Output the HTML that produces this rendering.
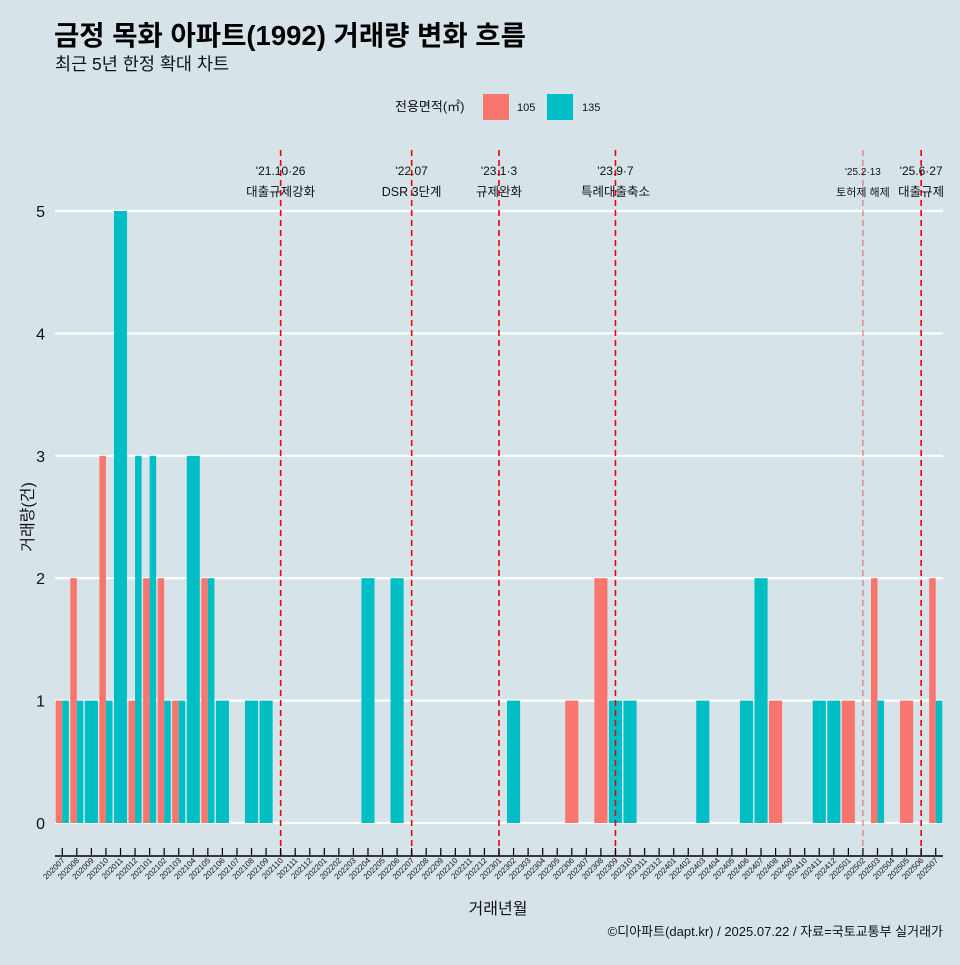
<!DOCTYPE html>
<html><head><meta charset="utf-8">
<style>
body{margin:0;background:#d6e4ea;}
svg text{font-family:"Liberation Sans","Noto Sans CJK KR",sans-serif;}
</style></head>
<body>
<svg id="chart" width="960" height="960" xmlns="http://www.w3.org/2000/svg">
<rect width="960" height="960" fill="#d6e4ea"/>
<text x="54" y="45" font-size="27.5" font-weight="bold" fill="#000">금정 목화 아파트(1992) 거래량 변화 흐름</text>
<text x="55" y="70" font-size="17.5" fill="#111">최근 5년 한정 확대 차트</text>
<g>
<text x="395" y="111" font-size="13" fill="#111">전용면적(㎡)</text>
<rect x="483" y="94" width="26" height="26" fill="#f8766d"/>
<text x="517" y="111" font-size="11" fill="#111">105</text>
<rect x="547" y="94" width="26" height="26" fill="#00bfc4"/>
<text x="582" y="111" font-size="11" fill="#111">135</text>
</g>
<g id="grid"></g><g id="bars"></g><g id="vlines"></g><g id="axes"></g>
<text x="943" y="936" font-size="13" fill="#111" text-anchor="end">©디아파트(dapt.kr) / 2025.07.22 / 자료=국토교통부 실거래가</text>
<text x="498" y="914" font-size="16" fill="#111" text-anchor="middle">거래년월</text>
<text transform="translate(33,517) rotate(-90)" font-size="16" fill="#111" text-anchor="middle">거래량(건)</text>
</svg>
<script>
const months=["202007","202008","202009","202010","202011","202012","202101","202102","202103","202104","202105","202106","202107","202108","202109","202110","202111","202112","202201","202202","202203","202204","202205","202206","202207","202208","202209","202210","202211","202212","202301","202302","202303","202304","202305","202306","202307","202308","202309","202310","202311","202312","202401","202402","202403","202404","202405","202406","202407","202408","202409","202410","202411","202412","202501","202502","202503","202504","202505","202506","202507"];
const s105=[1,2,0,3,0,1,2,2,1,0,2,0,0,0,0,0,0,0,0,0,0,0,0,0,0,0,0,0,0,0,0,0,0,0,0,1,0,2,0,0,0,0,0,0,0,0,0,0,0,1,0,0,0,0,1,0,2,0,1,0,2];
const s135=[1,1,1,1,5,3,3,1,1,3,2,1,0,1,1,0,0,0,0,0,0,2,0,2,0,0,0,0,0,0,0,1,0,0,0,0,0,0,1,1,0,0,0,0,1,0,0,1,2,0,0,0,1,1,0,0,1,0,0,0,1];
const yTicks=[0,1,2,3,4,5];
const events=[{m:"202110",d:"'21.10·26",t:"대출규제강화"},{m:"202207",d:"'22.07",t:"DSR 3단계"},{m:"202301",d:"'23.1·3",t:"규제완화"},{m:"202309",d:"'23.9·7",t:"특례대출축소"},{m:"202502",d:"'25.2·13",t:"토허제 해제"},{m:"202506",d:"'25.6·27",t:"대출규제"}];
const NS="http://www.w3.org/2000/svg";
const step=(943-55)/months.length;
const x=i=>55+step*(i+0.5);
const y=v=>823-v*122.4;
function mk(tag,a,parent){const e=document.createElementNS(NS,tag);for(const k in a)e.setAttribute(k,a[k]);document.getElementById(parent).appendChild(e);return e;}
yTicks.forEach(v=>{
 const l=mk('line',{x1:55,x2:943,y1:y(v),y2:y(v),stroke:'#fff','stroke-width':2.2},'grid');
 
 
 const t=mk('text',{x:45,y:y(v)+6,'font-size':16,'text-anchor':'end',fill:'#111'},'grid');t.textContent=v;
 
 
});
const bw=step*0.9;
months.forEach((m,i)=>{
 const a=s105[i],b=s135[i];const left=x(i)-bw/2;
 const both=a>0&&b>0;
 if(a>0){const r=mk('rect',{x:left,y:y(a),width:both?bw/2:bw,height:y(0)-y(a),fill:'#f8766d'},'bars');
  
  }
 if(b>0){const r=mk('rect',{x:both?left+bw/2:left,y:y(b),width:both?bw/2:bw,height:y(0)-y(b),fill:'#00bfc4'},'bars');
  
  }
 const tk=mk('line',{x1:x(i),x2:x(i),y1:848,y2:856,stroke:'#000','stroke-width':1.2},'axes');
 
 
 const tl=mk('text',{transform:`translate(${x(i)+3},861) rotate(-45)`,'font-size':8,'text-anchor':'end',fill:'#111'},'axes');tl.textContent=m;
 
 
});
const ax=mk('line',{x1:55,x2:943,y1:856,y2:856,stroke:'#000','stroke-width':1.5},'axes');


events.forEach(e=>{
 const i=months.indexOf(e.m);const xx=x(i);const light=e.m==="202502";
 const l=mk('line',{x1:xx,x2:xx,y1:150,y2:856,stroke:light?'#e06060':'#ee0000','stroke-width':light?1:1.6,'stroke-dasharray':'6,4'},'vlines');
 
 
 const fs=light?10:12;
 const t1=mk('text',{x:xx,y:175,'font-size':fs,'text-anchor':'middle',fill:'#111'},'vlines');t1.textContent=e.d;
 
 
 const t2=mk('text',{x:xx,y:196,'font-size':light?11:12.5,'text-anchor':'middle',fill:'#111'},'vlines');t2.textContent=e.t;
 
 
});
</script>
</body></html>
